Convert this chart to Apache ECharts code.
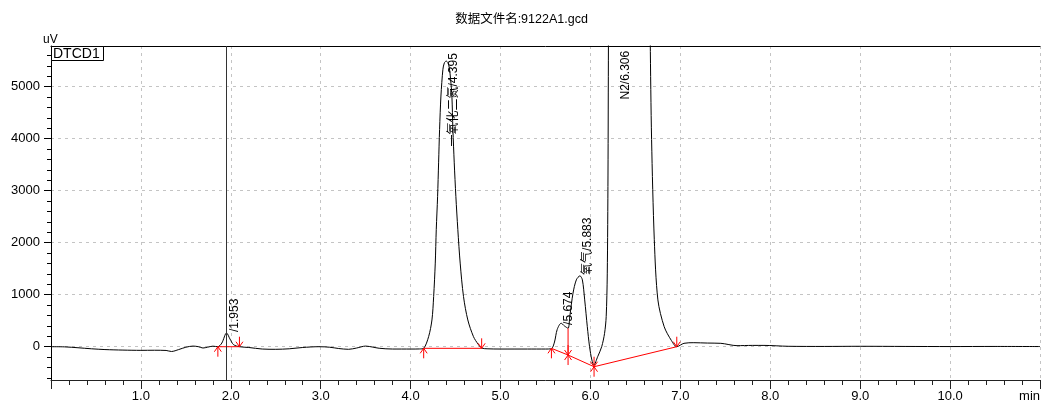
<!DOCTYPE html>
<html>
<head>
<meta charset="utf-8">
<script src="https://cdn.jsdelivr.net/npm/echarts@6/dist/echarts.min.js"></script>
<style>
  html, body { margin: 0; padding: 0; background: #fff; }
  #chart { width: 1043px; height: 406px; }
</style>
</head>
<body>
<div id="chart"></div>
<script>
// Detector trace (TCD), retention time in minutes, signal in uV
const signalTimes = [
  0.00, 0.15, 0.30, 0.45, 0.60, 0.80, 1.00, 1.15, 1.28, 1.34, 1.42, 1.50, 1.58, 1.64, 1.69, 1.74, 1.80,
  1.856, 1.90, 1.953, 1.99, 2.03, 2.096, 2.20, 2.35, 2.50, 2.65, 2.80, 2.98, 3.10, 3.20, 3.31, 3.40,
  3.50, 3.58, 3.65, 3.80, 4.00, 4.10, 4.145, 4.20, 4.237, 4.256, 4.274, 4.285, 4.30, 4.311, 4.322,
  4.337, 4.359, 4.375, 4.395, 4.414, 4.43, 4.445, 4.459, 4.47, 4.485, 4.503, 4.525, 4.551, 4.588,
  4.636, 4.699, 4.75, 4.79, 4.85, 5.00, 5.30, 5.50, 5.566, 5.60, 5.63, 5.674, 5.71, 5.751, 5.77,
  5.806, 5.843, 5.883, 5.91, 5.936, 5.965, 5.99, 6.016, 6.038, 6.08, 6.125, 6.157, 6.175, 6.187,
  6.195, 6.20, 6.215, 6.306, 6.62, 6.665, 6.68, 6.71, 6.75, 6.82, 6.90, 6.96, 7.04, 7.15, 7.30,
  7.45, 7.63, 7.80, 7.93, 8.20, 8.60, 9.00, 9.50, 10.00, 10.50, 11.00
];
const signalValues = [
  0, -3, -20, -40, -55, -65, -70, -68, -72, -92, -55, -10, 12, 0, -25, -10, 10,
  0, 70, 265, 150, 40, 0, -15, -45, -50, -40, -15, 0, -10, -35, -50, -25,
  12, -8, -30, -45, -45, -43, -31, 193, 514, 964, 1607, 2249, 2890, 3534, 4176,
  4818, 5332, 5455, 5490, 5461, 5360, 5130, 4818, 4176, 3534, 2890, 2249, 1607, 964,
  514, 193, 50, -25, -40, -45, -45, -45, -38, 90, 330, 451, 400, 354, 578,
  1029, 1285, 1362, 1285, 900, 385, 0, -256, -353, -193, 0, 257, 578, 1400,
  3300, 5800, 12000, 40000, 15000, 5900, 3983, 2056, 900, 385, 120, 0, 65, 77, 70,
  65, 20, 25, 25, 8, 5, 8, 5, 3, 5, 3
];

// Integrated peaks: retention time, compound name, level where the label starts
const peakTimes  = [1.953, 4.395, 5.674, 5.883, 6.306];
const peakNames  = ['', '一氧化二氮', '', '氧气', 'N2'];
const peakLabelLevels = [283, 3848, 418, 1380, 4752];

// Integration baselines: [t0, v0, t1, v1]
const baselineSegments = [
  [1.856, 0, 2.096, 0],
  [4.145, -31, 4.79, -31],
  [5.566, -31, 5.751, -160],
  [5.751, -160, 6.04, -385],
  [6.04, -385, 6.96, 0]
];
// Perpendicular drop between the two overlapping peaks: [t, baseline value, signal value]
const dropLines = [[5.751, -160, 354]];
// Peak start / end markers: [t, v, kind]
const peakMarkers = [
  [1.856, 0, 'start'], [2.096, 0, 'end'],
  [4.145, -31, 'start'], [4.79, -31, 'end'],
  [5.566, -31, 'start'], [5.751, -160, 'split'],
  [6.04, -385, 'split'], [6.96, 0, 'end']
];

// Axis ticks
const xMin = 0, xMax = 11, xStep = 1;
const yMin = -640, yMax = 5780;
const yMajorTicks = [0, 1000, 2000, 3000, 4000, 5000];
const yMinorTicks = [-600, -400, -200, 200, 400, 600, 800, 1200, 1400, 1600, 1800,
  2200, 2400, 2600, 2800, 3200, 3400, 3600, 3800, 4200, 4400, 4600, 4800, 5200, 5400, 5600];
const cursorTime = 1.953;

const FONT = "'Liberation Sans', Arial, 'Noto Sans CJK SC', sans-serif";
const chart = echarts.init(document.getElementById('chart'), null, { renderer: 'canvas' });

const signalData = signalTimes.map((t, i) => [t, signalValues[i]]);
const labelData = peakTimes.map((t, i) => [t, peakLabelLevels[i], (peakNames[i] ? peakNames[i] : '') + '/' + t.toFixed(3)]);

const RED = '#ff0000';
const gridDash = { color: '#c4c4c4', width: 1, type: [3, 4] };

chart.setOption({
  animation: false,
  backgroundColor: '#fff',
  title: {
    text: '数据文件名:9122A1.gcd',
    left: 'center',
    top: 8,
    textStyle: { fontSize: 12.5, fontWeight: 'normal', color: '#000', fontFamily: FONT }
  },
  grid: { left: 51, right: 0, top: 46, bottom: 26, containLabel: false },
  xAxis: [
    {
      type: 'value', min: xMin, max: xMax, interval: xStep,
      axisLine: { show: true, onZero: false, lineStyle: { color: '#222', width: 1 } },
      axisTick: { show: true, length: 9, lineStyle: { color: '#222' } },
      minorTick: { show: true, splitNumber: 5, length: 5, lineStyle: { color: '#222' } },
      axisLabel: {
        margin: 10, color: '#000', fontSize: 13, fontFamily: FONT,
        alignMaxLabel: 'right',
        formatter: v => (v === xMax ? 'min' : (v === xMin ? '' : v.toFixed(1)))
      },
      splitLine: { show: true, lineStyle: gridDash },
      minorSplitLine: { show: false }
    },
    {
      type: 'value', position: 'top', min: xMin, max: xMax,
      axisLine: { show: true, onZero: false, lineStyle: { color: '#000', width: 1 } },
      axisTick: { show: false }, axisLabel: { show: false }, splitLine: { show: false }
    }
  ],
  yAxis: [
    {
      type: 'value', min: yMin, max: yMax, minInterval: 1000, maxInterval: 1000,
      axisLine: { show: true, onZero: false, lineStyle: { color: '#000', width: 1 } },
      axisTick: { show: true, length: 7, customValues: yMajorTicks, lineStyle: { color: '#000' } },
      axisLabel: {
        customValues: yMajorTicks, margin: 11, color: '#000', fontSize: 13, fontFamily: FONT,
        formatter: v => String(v)
      },
      splitLine: { show: true, lineStyle: gridDash }
    },
    {
      type: 'value', position: 'left', min: yMin, max: yMax,
      axisLine: { show: false },
      axisTick: { show: true, length: 4, customValues: yMinorTicks, lineStyle: { color: '#000' } },
      axisLabel: { show: false }, splitLine: { show: false }
    }
  ],
  graphic: [
    {
      type: 'text', x: 43, y: 40,
      style: { text: 'uV', fill: '#000', font: '12px ' + FONT, verticalAlign: 'middle' }
    },
    {
      type: 'rect', shape: { x: 51.5, y: 46.5, width: 52, height: 14 },
      style: { fill: '#fff', stroke: '#000', lineWidth: 1 }, z: 10
    },
    {
      type: 'text', x: 53, y: 54,
      style: { text: 'DTCD1', fill: '#000', font: '14px ' + FONT, verticalAlign: 'middle' }, z: 11
    }
  ],
  series: [
    {
      type: 'line',
      data: signalData,
      xAxisIndex: 0, yAxisIndex: 0,
      showSymbol: false, symbol: 'none',
      smooth: 0.3,
      clip: true,
      lineStyle: { color: '#000', width: 1 },
      silent: true,
      z: 3,
      markLine: {
        silent: true, symbol: 'none', label: { show: false },
        lineStyle: { color: '#333', width: 1, type: 'solid' },
        data: [{ xAxis: cursorTime }]
      }
    },
    {
      // integration baselines and drop lines
      type: 'custom',
      xAxisIndex: 0, yAxisIndex: 0,
      silent: true, z: 4,
      data: baselineSegments.map(s => ({ value: s }))
        .concat(dropLines.map(d => ({ value: [d[0], d[1], d[0], d[2]] }))),
      renderItem: (params, api) => {
        const a = api.coord([api.value(0), api.value(1)]);
        const b = api.coord([api.value(2), api.value(3)]);
        return {
          type: 'line',
          shape: { x1: a[0], y1: a[1], x2: b[0], y2: b[1] },
          style: { stroke: RED, lineWidth: 1 }
        };
      }
    },
    {
      // start / end arrows
      type: 'custom',
      xAxisIndex: 0, yAxisIndex: 0,
      silent: true, z: 5,
      data: peakMarkers.map(m => [m[0], m[1], m[2] === 'start' ? 0 : (m[2] === 'end' ? 1 : 2)]),
      renderItem: (params, api) => {
        const p = api.coord([api.value(0), api.value(1)]);
        const kind = api.value(2);
        const x = p[0], y = p[1];
        const hw = 3.5, hh = 5, stem = 10;
        const children = [];
        const st = { stroke: RED, lineWidth: 1, fill: null };
        if (kind === 0 || kind === 2) {
          children.push({ type: 'polyline', shape: { points: [[x - hw, y + hh], [x, y], [x + hw, y + hh]] }, style: st });
          children.push({ type: 'line', shape: { x1: x, y1: y, x2: x, y2: y + stem }, style: st });
        }
        if (kind === 1 || kind === 2) {
          children.push({ type: 'polyline', shape: { points: [[x - hw, y - hh], [x, y], [x + hw, y - hh]] }, style: st });
          children.push({ type: 'line', shape: { x1: x, y1: y - stem, x2: x, y2: y }, style: st });
        }
        return { type: 'group', children: children };
      }
    },
    {
      // peak labels, rotated
      type: 'custom',
      xAxisIndex: 0, yAxisIndex: 0,
      silent: true, z: 6,
      data: labelData,
      renderItem: (params, api) => {
        const p = api.coord([api.value(0), api.value(1)]);
        return {
          type: 'text',
          x: p[0] + 8, y: p[1],
          rotation: Math.PI / 2,
          style: {
            text: labelData[params.dataIndex][2],
            fill: '#000', font: '12px ' + FONT,
            align: 'left', verticalAlign: 'middle'
          }
        };
      }
    }
  ]
});
</script>
</body>
</html>
